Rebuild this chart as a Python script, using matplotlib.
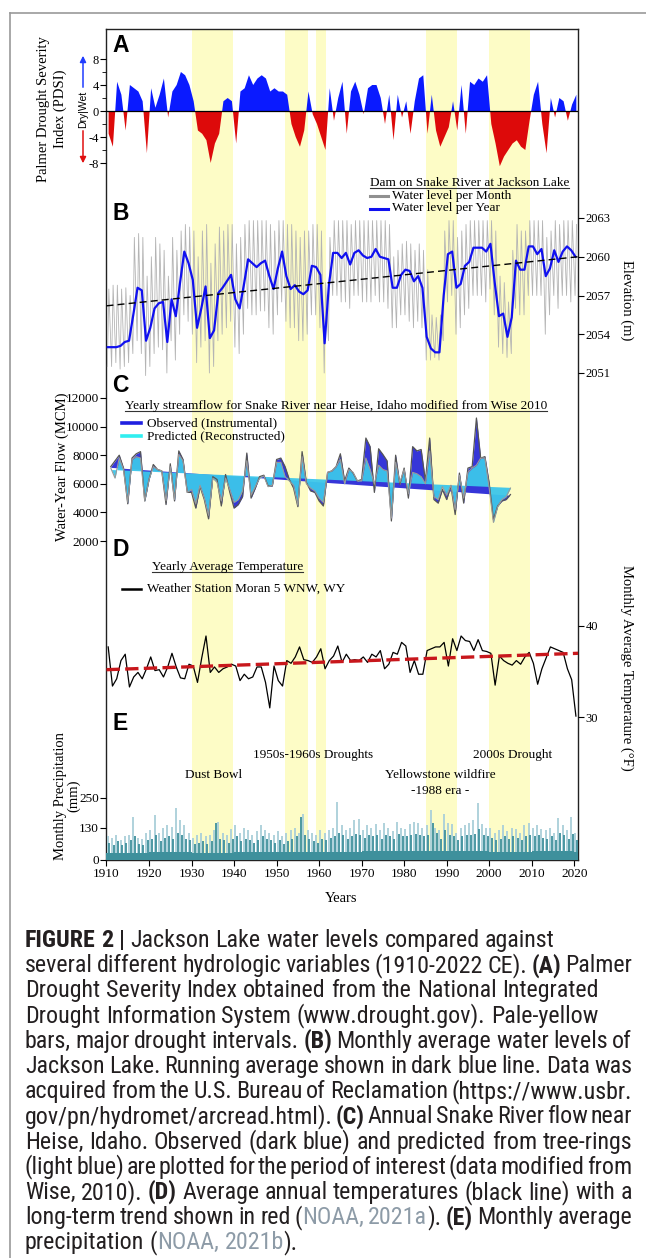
import numpy as np
import matplotlib
matplotlib.use("Agg")
import matplotlib.pyplot as plt
from matplotlib import font_manager as fm
from matplotlib.lines import Line2D
from matplotlib.patches import FancyArrowPatch

plt.rcParams['font.family'] = 'Liberation Serif'
plt.rcParams['axes.unicode_minus'] = False

# ---------------- data ----------------
years = np.arange(1910, 2021)

# A: Palmer Drought Severity Index, one value per year
pdsi = [-3.5, -5.5, 4.5, 2.5, -3.0, 4.0, 3.5, 3.0, 1.5, -6.5,
        3.5, 0.5, 2.5, 5.0, -1.0, 3.0, 4.0, 6.0, 5.5, 4.0,
        1.5, -3.0, -3.5, -4.5, -8.0, -5.0, -3.5, 1.5, 2.0, 1.5,
        -5.0, 3.0, 3.5, 5.5, 4.0, 5.0, 5.5, 5.0, 3.0, 3.5,
        3.0, 3.0, 2.5, -2.0, -4.0, -5.5, -3.0, 3.0, -0.5, -2.0,
        -4.0, -6.0, 3.5, -1.5, 2.0, 4.5, -3.5, 3.0, 4.5, 2.5,
        -0.5, 3.5, 4.0, 4.0, 2.0, -2.0, 2.5, -4.5, 2.5, -1.0,
        1.5, -3.5, 1.5, 5.0, 5.5, -3.5, 2.5, -3.0, -5.5, -4.0,
        -2.5, 1.5, -3.0, 4.0, -3.5, 4.5, 4.0, 5.0, 4.5, 5.5,
        -2.0, -5.0, -8.5, -7.0, -6.0, -5.0, -4.5, -5.5, -6.0, -1.5,
        2.5, 4.5, -2.0, -6.5, 2.0, -1.0, 2.0, 1.5, -1.5, 1.0,
        2.5]

# B: Jackson Lake elevation (m); monthly curve summarised by yearly high / low
level_high = [2057.5, 2057.8, 2057.8, 2057.5, 2057.6, 2057.0, 2061.5, 2061.8, 2061.5, 2058.5,
              2060.0, 2061.5, 2061.0, 2060.5, 2058.5, 2061.5, 2060.5, 2062.0, 2062.5, 2062.3,
              2062.0, 2060.0, 2062.0, 2062.5, 2059.5, 2061.0, 2062.3, 2062.0, 2062.5, 2062.5,
              2061.0, 2061.5, 2062.5, 2062.8, 2062.8, 2062.8, 2062.8, 2062.8, 2062.5, 2062.0,
              2062.8, 2062.8, 2062.5, 2062.5, 2062.0, 2061.5, 2062.0, 2062.0, 2062.5, 2062.5,
              2062.0, 2058.0, 2061.5, 2062.8, 2062.8, 2062.8, 2062.8, 2062.5, 2062.8, 2062.8,
              2062.8, 2062.8, 2062.8, 2062.8, 2062.8, 2062.8, 2062.5, 2060.0, 2060.5, 2061.0,
              2061.2, 2061.0, 2060.5, 2061.0, 2060.5, 2059.0, 2055.5, 2055.3, 2055.5, 2062.0,
              2062.8, 2062.8, 2061.5, 2062.0, 2062.5, 2062.8, 2062.8, 2062.8, 2062.8, 2062.8,
              2062.8, 2062.0, 2058.5, 2058.0, 2056.5, 2060.5, 2062.5, 2062.0, 2062.0, 2062.8,
              2062.8, 2062.8, 2062.8, 2061.5, 2062.0, 2062.8, 2062.5, 2062.8, 2062.8, 2062.8,
              2062.5]
level_low = [2051.5, 2051.5, 2051.8, 2051.3, 2051.5, 2051.8, 2052.5, 2053.5, 2052.5, 2050.8,
             2051.5, 2052.5, 2053.0, 2052.8, 2051.0, 2053.5, 2052.0, 2054.0, 2055.5, 2055.0,
             2054.0, 2051.8, 2053.0, 2053.5, 2051.0, 2051.5, 2053.5, 2054.0, 2054.5, 2055.0,
             2053.0, 2052.5, 2054.0, 2056.0, 2055.5, 2055.5, 2055.8, 2055.8, 2054.5, 2054.0,
             2055.5, 2056.5, 2055.0, 2054.5, 2054.5, 2053.5, 2053.5, 2054.0, 2055.5, 2055.5,
             2054.5, 2051.0, 2053.5, 2057.0, 2057.0, 2056.5, 2056.5, 2056.0, 2057.0, 2057.0,
             2056.5, 2056.5, 2056.5, 2057.0, 2056.5, 2056.5, 2056.0, 2054.5, 2054.5, 2055.5,
             2055.5, 2055.0, 2054.5, 2055.0, 2054.5, 2052.0, 2052.0, 2052.2, 2052.0, 2053.5,
             2056.5, 2057.0, 2054.0, 2054.5, 2055.5, 2056.0, 2057.0, 2057.0, 2057.0, 2056.5,
             2057.5, 2055.5, 2053.0, 2052.5, 2052.2, 2052.5, 2056.0, 2055.5, 2055.5, 2057.0,
             2057.0, 2057.0, 2057.0, 2054.0, 2055.5, 2057.0, 2056.0, 2057.0, 2057.0, 2056.5,
             2057.0]
level_year = [2053.0, 2053.0, 2053.0, 2053.1, 2053.4, 2053.5, 2055.5, 2057.6, 2057.4, 2053.5,
              2054.5, 2056.0, 2056.4, 2056.5, 2053.4, 2056.7, 2055.4, 2058.0, 2060.4, 2059.5,
              2058.2, 2054.5, 2056.0, 2057.7, 2053.7, 2054.3, 2057.2, 2057.6, 2058.1, 2058.6,
              2056.7, 2056.0, 2057.8, 2059.8, 2059.5, 2059.2, 2059.5, 2059.7, 2058.5, 2057.5,
              2059.1, 2060.4, 2058.5, 2057.5, 2057.8, 2057.3, 2057.1, 2057.4, 2059.3, 2059.2,
              2058.6, 2053.3, 2057.8, 2060.3, 2060.3, 2059.9, 2060.3, 2059.4, 2060.3, 2060.5,
              2060.1, 2059.9, 2060.0, 2060.6, 2060.0, 2059.9, 2059.8, 2057.6, 2057.6, 2058.6,
              2059.0, 2058.9, 2058.1, 2058.5, 2057.6, 2053.8, 2052.9, 2052.6, 2052.6, 2057.0,
              2060.2, 2060.4, 2057.6, 2057.9, 2059.3, 2059.6, 2060.7, 2060.7, 2060.7, 2060.4,
              2061.0, 2058.0, 2055.4, 2055.6, 2053.8, 2055.3, 2059.7, 2059.0, 2059.0, 2060.8,
              2060.8, 2060.2, 2060.6, 2058.5, 2059.1, 2060.5, 2059.6, 2060.4, 2060.8, 2060.5,
              2060.0]
level_trend_years = [1910, 2020.9]
level_trend = [2056.2, 2060.0]

# C: Snake River near Heise, water-year flow (MCM)
flow_years = np.arange(1911, 2006)
flow_observed = [7200, 7600, 8000, 7100, 4600, 7800, 8100, 8250, 4800, 6300,
                 7350, 7000, 6900, 4550, 7400, 4800, 8300, 7700, 5400, 5400,
                 4300, 5800, 4900, 3550, 6500, 6300, 4450, 6650, 5400, 4300,
                 4550, 5100, 8150, 5000, 5700, 6500, 6600, 5850, 5850, 7700,
                 7800, 7200, 6300, 5700, 4400, 8250, 6100, 5500, 5400, 4800,
                 4450, 6800, 6900, 7200, 8100, 6200, 7100, 6750, 6200, 6300,
                 9200, 8600, 5400, 8450, 8050, 7600, 3400, 8000, 5950, 7100,
                 5000, 8600, 8300, 8400, 6200, 9200, 4900, 4650, 5600, 4900,
                 5850, 3850, 6750, 4650, 7100, 7200, 10600, 7800, 7900, 6050,
                 3500, 4450, 4800, 4900, 5250]
flow_predicted = [7100, 6400, 7800, 7000, 4700, 7700, 7900, 7800, 4800, 6300,
                  7200, 7000, 6900, 4800, 7200, 4900, 8050, 7600, 5400, 5600,
                  4600, 5900, 5000, 3800, 6400, 6100, 4800, 6400, 5600, 4700,
                  4900, 5500, 7600, 5200, 5800, 6400, 6550, 5800, 5900, 7500,
                  7500, 6500, 6200, 5900, 4500, 7900, 6000, 5700, 5500, 5000,
                  4700, 6800, 6900, 7200, 7700, 6000, 7000, 6800, 6200, 6200,
                  7800, 7000, 6000, 7300, 7000, 6900, 3600, 7500, 6100, 7000,
                  5300, 6800, 6700, 6500, 6000, 8300, 5100, 4900, 5800, 5200,
                  5900, 4200, 6600, 5000, 6800, 7100, 7300, 7800, 7800, 5700,
                  3300, 4400, 4900, 5100, 5700]
flow_trend_years = [1911, 2005]
flow_observed_trend = [7150, 5200]
flow_predicted_trend = [7000, 5750]

# D: yearly average temperature, Moran 5 WNW (deg F)
temperature = [37.7, 33.4, 34.2, 36.2, 36.9, 33.3, 34.4, 34.9, 34.2, 35.3,
               36.6, 35.1, 35.2, 34.4, 35.5, 37.0, 35.5, 34.3, 34.2, 35.8,
               35.6, 33.8, 36.5, 38.9, 34.9, 35.5, 34.9, 35.3, 35.5, 35.8,
               35.6, 34.0, 34.7, 34.2, 34.4, 35.5, 35.5, 33.8, 31.0, 35.6,
               34.0, 33.4, 36.2, 35.9, 36.6, 37.7, 36.3, 36.2, 36.0, 36.6,
               37.5, 35.3, 36.2, 36.7, 37.8, 36.0, 36.9, 36.2, 36.3, 36.2,
               36.6, 36.0, 36.9, 36.6, 37.3, 35.3, 35.8, 37.1, 36.9, 38.2,
               37.8, 34.9, 36.2, 34.7, 34.7, 37.3, 37.5, 37.7, 37.7, 38.2,
               35.6, 38.6, 37.3, 38.9, 38.4, 38.3, 37.3, 38.5, 37.3, 37.2,
               37.0, 33.5, 36.7, 36.2, 35.9, 35.7, 36.2, 35.8, 36.6, 37.1,
               35.9, 33.6, 35.3, 36.5, 37.7, 37.5, 37.3, 37.1, 35.3, 34.1,
               30.1]
temp_trend_years = [1910, 2020.9]
temp_trend = [35.2, 37.0]

# E: monthly precipitation (mm), summarised per year: highest month, a wet month, typical level
precip_peak = [95, 90, 100, 80, 95, 100, 175, 90, 85, 110,
               120, 180, 110, 130, 140, 135, 210, 160, 140, 110,
               90, 100, 110, 95, 100, 120, 155, 110, 100, 125,
               140, 110, 130, 120, 100, 115, 140, 120, 110, 100,
               115, 95, 110, 120, 130, 110, 185, 120, 110, 100,
               120, 110, 120, 130, 235, 140, 120, 130, 160, 165,
               120, 140, 130, 145, 120, 150, 130, 115, 155, 130,
               125, 145, 155, 150, 130, 140, 200, 130, 120, 185,
               150, 145, 110, 130, 140, 150, 160, 230, 145, 130,
               130, 110, 120, 140, 115, 130, 125, 110, 140, 150,
               130, 140, 125, 120, 130, 110, 170, 140, 120, 175,
               110]
precip_wet = [70, 60, 75, 62, 68, 80, 95, 66, 62, 80,
              85, 100, 75, 90, 95, 85, 110, 100, 85, 80,
              66, 70, 75, 66, 75, 150, 85, 80, 70, 85,
              95, 75, 85, 80, 70, 80, 95, 85, 80, 70,
              80, 66, 75, 85, 95, 175, 100, 85, 75, 70,
              85, 80, 90, 95, 110, 100, 85, 95, 105, 100,
              90, 100, 95, 100, 85, 100, 95, 85, 105, 95,
              95, 100, 105, 100, 95, 100, 150, 110, 85, 120,
              100, 95, 80, 95, 100, 100, 105, 125, 100, 95,
              90, 80, 85, 95, 85, 95, 90, 80, 95, 100,
              95, 100, 90, 85, 95, 80, 110, 100, 85, 105,
              80]
precip_decade_base = [30, 34, 30, 32, 32, 34, 36, 38, 36, 34, 36, 34]

drought_bands = [(1930.2, 1939.7), (1951.9, 1957.5), (1959.2, 1961.6),
                 (1985.2, 1992.4), (2000.0, 2009.6)]

# ---------------- layout helpers (pixel coordinates, origin top-left) ----------------
W, H = 646, 1258
fig = plt.figure(figsize=(W / 100, H / 100), dpi=100)
renderer = fig.canvas.get_renderer()

X0, X1 = 106.5, 578.0
XLIM = (1910.0, 1910.0 + (X1 - X0) / 4.252)


def box(left, top, right, bottom):
    return [left / W, 1 - bottom / H, (right - left) / W, (bottom - top) / H]


def label(x, y, s, **kw):
    return fig.text(x / W, 1 - y / H, s, **kw)


def hline(x0, x1, y, **kw):
    fig.add_artist(Line2D([x0 / W, x1 / W], [1 - y / H, 1 - y / H], transform=fig.transFigure, **kw))


def underlined(x, y, s, size):
    t = label(x, y, s, ha='left', va='center', fontsize=size)
    bb = t.get_window_extent(renderer)
    fig.add_artist(Line2D([bb.x0 / W, bb.x1 / W], [(bb.y0 + 1.5) / H] * 2,
                          transform=fig.transFigure, color='#333333', lw=0.8))
    return t


def panel(top, bottom, v1, p1, v2, p2):
    k = (v1 - v2) / (p2 - p1)
    ax = fig.add_axes(box(X0, top, X1, bottom))
    ax.set_xlim(XLIM)
    ax.set_ylim(v1 - (bottom - p1) * k, v1 + (p1 - top) * k)
    ax.patch.set_visible(False)
    for s in ax.spines.values():
        s.set_visible(False)
    ax.tick_params(bottom=False, labelbottom=False, left=False, labelleft=False,
                   direction='out', length=4, width=0.8, pad=1.5)
    return ax


# outer border of the figure box
hline(10, W, 12.5, color='#9a9a9a', lw=1.2)
fig.add_artist(Line2D([10 / W, 10 / W], [0, 1 - 12.5 / H], transform=fig.transFigure, color='#9a9a9a', lw=1.2))

# ---------------- frame axes with drought bands ----------------
ax0 = fig.add_axes(box(X0, 29, X1, 860))
ax0.set_xlim(XLIM)
ax0.set_ylim(0, 1)
ax0.set_yticks([])
for a, b in drought_bands:
    ax0.axvspan(a, b, color='#fdfcc6', lw=0, zorder=0)
ax0.set_xticks(np.arange(1910, 2021, 10))
ax0.tick_params(axis='x', direction='out', length=4, width=0.8, labelsize=9.5, pad=1.5)
for s in ax0.spines.values():
    s.set_linewidth(1.0)
    s.set_color('#222222')

# ---------------- A: PDSI ----------------
axA = panel(29, 195, 8, 59, -8, 163)
pd_arr = np.array(pdsi)
xa = years + 0.5
axA.fill_between(xa, pd_arr, 0, where=pd_arr >= 0, interpolate=True, color='#0a1aff', lw=0)
axA.fill_between(xa, pd_arr, 0, where=pd_arr <= 0, interpolate=True, color='#dd0a0a', lw=0)
axA.axhline(0, color='black', lw=0.9)
axA.set_yticks([-8, -4, 0, 4, 8])
axA.set_yticks([-6, -2, 2, 6], minor=True)
axA.tick_params(axis='y', which='both', left=True, labelleft=True, labelsize=9)
axA.tick_params(axis='y', which='minor', length=3)

# ---------------- B: lake level ----------------
axB = panel(175, 390, 2063, 218, 2051, 373)
t_zig = np.ravel(np.column_stack([years + 0.2, years + 0.55]))
v_zig = np.ravel(np.column_stack([level_low, level_high]))
axB.plot(t_zig, v_zig, color='#b4b4b4', lw=0.6)
axB.plot(years + 0.3, level_year, color='#1010f0', lw=1.6)
axB.plot(level_trend_years, level_trend, color='black', lw=1.0, ls=(0, (5, 3)))
axB.set_yticks([2051, 2054, 2057, 2060, 2063])
axB.tick_params(axis='y', right=True, labelright=True, labelsize=9)

# ---------------- C: streamflow ----------------
axC = panel(380, 565, 12000, 398, 2000, 541)
obs_tr = np.interp(flow_years, flow_trend_years, flow_observed_trend)
pre_tr = np.interp(flow_years, flow_trend_years, flow_predicted_trend)
axC.fill_between(flow_years, flow_observed, obs_tr, color='#3636d8', lw=0)
axC.fill_between(flow_years, flow_predicted, pre_tr, color='#3cc6ea', lw=0, alpha=0.95)
axC.plot(flow_years, flow_observed, color='#555555', lw=0.9)
axC.plot(flow_years, flow_predicted, color='#9a9a9a', lw=0.8)
axC.set_yticks(np.arange(2000, 12001, 2000))
axC.tick_params(axis='y', left=True, labelleft=True, labelsize=9.5)

# ---------------- D: temperature ----------------
axD = panel(540, 745, 40, 626, 30, 717)
axD.plot(years + 0.4, temperature, color='black', lw=0.9)
axD.plot(temp_trend_years, temp_trend, color='#c8171c', lw=2.4, ls=(0, (4, 1.6)))
axD.set_yticks([30, 40])
axD.tick_params(axis='y', right=True, labelright=True, labelsize=9)

# ---------------- E: precipitation ----------------
axE = panel(700, 860, 250, 798, 0, 860)
base = np.array(precip_decade_base)[(years - 1910) // 10]
axE.vlines(years + 0.3, 0, precip_peak, color='#a9cfd9', lw=1.3, zorder=1)
axE.bar(years + 0.5, base, width=1.0, color='#3e909c', lw=0, zorder=2)
axE.vlines(years + 0.7, 0, precip_wet, color='#3e909c', lw=1.3, zorder=3)
axE.set_yticks([0, 130, 250])
axE.tick_params(axis='y', left=True, labelleft=True, labelsize=9.5)

for x, y, s in [(213.7, 775, 'Dust Bowl'), (313.2, 755, '1950s-1960s Droughts'),
                (440.6, 775, 'Yellowstone wildfire'), (440.6, 791, '-1988 era -'),
                (513, 755, '2000s Drought')]:
    label(x, y, s, ha='center', va='center', fontsize=9.5)

# ---------------- panel letters, axis labels, legends ----------------
for y, s in [(45, 'A'), (213, 'B'), (385, 'C'), (549, 'D'), (723, 'E')]:
    label(112, y, s, ha='left', va='center', fontsize=16.5, fontweight='bold', family='Liberation Sans')

label(52, 109, 'Palmer Drought Severity\nIndex (PDSI)', rotation=90, ha='center', va='center',
      fontsize=10.5, linespacing=1.3)
label(62, 467, 'Water-Year Flow (MCM)', rotation=90, ha='center', va='center', fontsize=10.5)
label(67, 796, 'Monthly Precipitation\n(mm)', rotation=90, ha='center', va='center',
      fontsize=10.5, linespacing=1.0)
label(627, 300, 'Elevation (m)', rotation=270, ha='center', va='center', fontsize=10.5)
label(627, 668, 'Monthly Average Temperature (\u00b0F)', rotation=270, ha='center', va='center', fontsize=10.5)
label(340.6, 899, 'Years', ha='center', va='center', fontsize=10.5)

# Dry | Wet indicator
label(83, 109, 'Dry|Wet', rotation=90, ha='center', va='center', fontsize=7.5, family='Liberation Sans')
fig.add_artist(FancyArrowPatch((83 / W, 1 - 90 / H), (83 / W, 1 - 53 / H), transform=fig.transFigure,
                               arrowstyle='-|>', mutation_scale=9, color='#1f3cff', lw=1.1))
fig.add_artist(FancyArrowPatch((83 / W, 1 - 128 / H), (83 / W, 1 - 166 / H), transform=fig.transFigure,
                               arrowstyle='-|>', mutation_scale=9, color='#e01010', lw=1.1))

underlined(370, 183, 'Dam on Snake River at Jackson Lake', 9.5)
hline(370, 388, 196, color='#909090', lw=2.2)
label(392, 196, 'Water level per Month', ha='left', va='center', fontsize=9.5)
hline(370, 388, 208.5, color='#1010f0', lw=2.2)
label(392, 208.5, 'Water level per Year', ha='left', va='center', fontsize=9.5)

underlined(125, 406, 'Yearly streamflow for Snake River near Heise, Idaho modified from Wise 2010', 9.5)
hline(122, 141, 423, color='#2020e0', lw=2.6)
label(147, 423, 'Observed (Instrumental)', ha='left', va='center', fontsize=9.5)
hline(122, 141, 436, color='#30eef0', lw=2.6)
label(147, 436, 'Predicted (Reconstructed)', ha='left', va='center', fontsize=9.5)

underlined(152, 567, 'Yearly Average Temperature', 9.5)
hline(122, 141, 589, color='black', lw=1.8)
label(147, 589, 'Weather Station Moran 5 WNW, WY', ha='left', va='center', fontsize=9.5)


# ---------------- caption ----------------
def narrow_font(bold):
    # look for an installed condensed sans face (caption is set in a condensed sans)
    best = None
    for f in fm.fontManager.ttflist:
        name = f.name.lower()
        narrow = ('condensed' in name or 'narrow' in name or
                  f.stretch in ('condensed', 'semi-condensed', 'extra-condensed'))
        if not narrow or 'mono' in name or 'serif' in name or f.style != 'normal':
            continue
        w = f.weight if isinstance(f.weight, int) else (700 if 'bold' in str(f.weight) else 400)
        if (w >= 600) != bold:
            continue
        score = (2 if 'roboto' in name else 1 if 'noto' in name or 'liberation' in name else 0,
                 -abs(w - (700 if bold else 400)))
        if best is None or score > best[0]:
            best = (score, f.fname)
    return best[1] if best else None


reg_path, bold_path = narrow_font(False), narrow_font(True)


def cap_fonts(size):
    if reg_path:
        return (fm.FontProperties(fname=reg_path, size=size),
                fm.FontProperties(fname=bold_path or reg_path, size=size))
    return (fm.FontProperties(family='Roboto', size=size),
            fm.FontProperties(family='Roboto', weight='bold', size=size))


caption = [
    ([("FIGURE 2 |", 'b'), (" Jackson Lake water levels compared against", 'n')], False),
    ([("several different hydrologic variables (1910-2022 CE). ", 'n'), ("(A)", 'b'), (" Palmer", 'n')], True),
    ([("Drought Severity Index obtained from the National Integrated", 'n')], False),
    ([("Drought Information System (www.drought.gov). Pale-yellow", 'n')], False),
    ([("bars, major drought intervals. ", 'n'), ("(B)", 'b'), (" Monthly average water levels of", 'n')], True),
    ([("Jackson Lake. Running average shown in dark blue line. Data was", 'n')], True),
    ([("acquired from the U.S. Bureau of Reclamation (https://www.usbr.", 'n')], True),
    ([("gov/pn/hydromet/arcread.html). ", 'n'), ("(C)", 'b'), (" Annual Snake River flow near", 'n')], True),
    ([("Heise, Idaho. Observed (dark blue) and predicted from tree-rings", 'n')], True),
    ([("(light blue) are plotted for the period of interest (data modified from", 'n')], True),
    ([("Wise, 2010). ", 'n'), ("(D)", 'b'), (" Average annual temperatures (black line) with a", 'n')], True),
    ([("long-term trend shown in red (", 'n'), ("NOAA, 2021a", 'g'), ("). ", 'n'), ("(E)", 'b'),
      (" Monthly average", 'n')], True),
    ([("precipitation (", 'n'), ("NOAA, 2021b", 'g'), (").", 'n')], False),
]
CAP_LEFT, CAP_RIGHT = 25, 632
FIRST_LINE_END = 556  # the first (unjustified) line ends here in the reference


def split_words(parts):
    words = [[]]
    for s, st in parts:
        for j, piece in enumerate(s.split(' ')):
            if j > 0:
                words.append([])
            if piece:
                words[-1].append((piece, st))
    return [w for w in words if w]


def text_width(s, fp):
    t = fig.text(0, 0, s, fontproperties=fp)
    w = t.get_window_extent(renderer).width
    t.remove()
    return w


def line_widths(words, styles):
    return [[text_width(p, styles[st][0]) for p, st in w] for w in words]


# size the caption font so that the first line spans the same width as in the reference
size = 15.0
reg, bold = cap_fonts(size)
styles = {'n': (reg, '#231f20'), 'b': (bold, '#231f20'), 'g': (reg, '#8d9ba7')}
w0 = split_words(caption[0][0])
sp = text_width('a a', reg) - text_width('aa', reg)
natural = sum(sum(w) for w in line_widths(w0, styles)) + sp * (len(w0) - 1)
size = size * (FIRST_LINE_END - CAP_LEFT) / natural

reg, bold = cap_fonts(size)
styles = {'n': (reg, '#231f20'), 'b': (bold, '#231f20'), 'g': (reg, '#8d9ba7')}
space = text_width('a a', reg) - text_width('aa', reg)

for i, (parts, justify) in enumerate(caption):
    words = split_words(parts)
    widths = line_widths(words, styles)
    total = sum(sum(w) for w in widths)
    gap = space
    if justify and len(words) > 1:
        gap = max((CAP_RIGHT - CAP_LEFT - total) / (len(words) - 1), 0.4 * space)
    x = CAP_LEFT
    yb = 947 + 25.2 * i
    for w, ws in zip(words, widths):
        for (p, st), pw in zip(w, ws):
            fp, col = styles[st]
            label(x, yb, p, ha='left', va='baseline', fontproperties=fp, color=col)
            x += pw
        x += gap

fig.savefig('out.png', dpi=100)
